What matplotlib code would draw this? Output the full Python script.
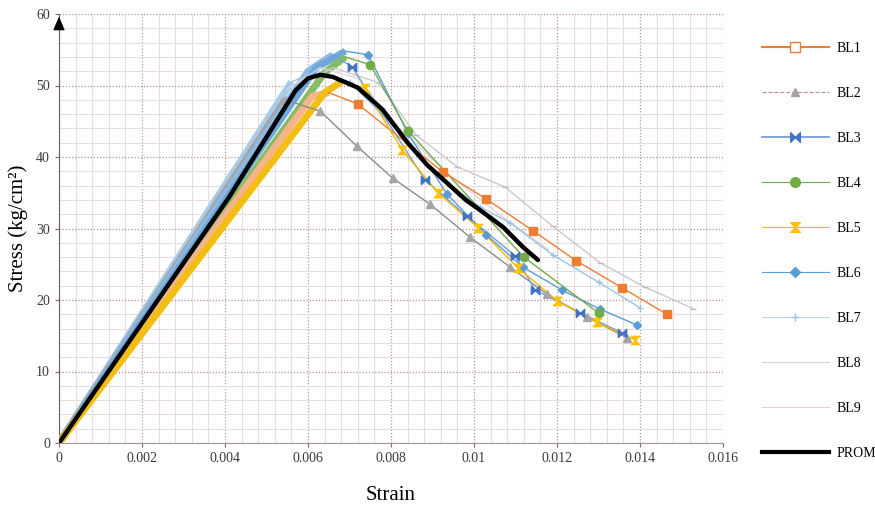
import matplotlib
matplotlib.use('Agg')
import matplotlib.pyplot as plt
from matplotlib.lines import Line2D
from matplotlib.path import Path
from matplotlib.ticker import MultipleLocator

plt.rcParams['font.family'] = ['Liberation Serif', 'DejaVu Serif']

# strain / stress values
bl1_x = [0, 0.0061, 0.0065, 0.0072, 0.00925, 0.0103, 0.01142, 0.01246, 0.01357, 0.01465]
bl1_y = [0, 48.5, 49.0, 47.4, 37.9, 34.1, 29.7, 25.5, 21.7, 18.0]
bl2_x = [0, 0.00545, 0.0063, 0.00718, 0.00805, 0.00894, 0.0099, 0.01087, 0.01176, 0.01272, 0.01369]
bl2_y = [0, 48.0, 46.4, 41.5, 37.0, 33.4, 28.8, 24.6, 20.8, 17.6, 14.7]
bl3_x = [0, 0.0060, 0.0066, 0.00706, 0.00882, 0.00983, 0.01099, 0.01147, 0.01256, 0.01357]
bl3_y = [0, 52.0, 54.3, 52.6, 36.8, 31.7, 26.2, 21.4, 18.2, 15.4]
bl4_x = [0, 0.0064, 0.0069, 0.0075, 0.0084, 0.0112, 0.0130]
bl4_y = [0, 51.8, 54.0, 52.9, 43.7, 26.0, 18.2]
bl5_x = [0, 0.0064, 0.0068, 0.00737, 0.00827, 0.00913, 0.0101, 0.01106, 0.0120, 0.01296, 0.01388]
bl5_y = [0, 49.0, 50.5, 49.6, 41.0, 35.0, 30.1, 24.5, 19.9, 16.9, 14.4]
bl6_x = [0, 0.0062, 0.0069, 0.00745, 0.0084, 0.00935, 0.0103, 0.01118, 0.01212, 0.01304, 0.01393]
bl6_y = [0, 52.5, 54.8, 54.3, 43.4, 34.8, 29.1, 24.6, 21.4, 18.7, 16.5]
bl7_x = [0, 0.0056, 0.0062, 0.0070, 0.0082, 0.0092, 0.01015, 0.01087, 0.0119, 0.0130, 0.0140]
bl7_y = [0, 50.5, 52.0, 50.5, 43.5, 37.0, 33.0, 30.8, 26.3, 22.5, 18.9]
bl8_x = [0, 0.0058, 0.0066, 0.0077, 0.0086, 0.0096, 0.01075, 0.0119, 0.01304, 0.01412, 0.01528]
bl8_y = [0, 50.0, 52.5, 50.4, 43.1, 38.6, 35.8, 30.3, 25.2, 21.8, 18.8]
bl9_x = [0, 0.0055, 0.0063, 0.0072, 0.0082, 0.0094, 0.0106, 0.0118]
bl9_y = [0, 49.5, 52.5, 51.0, 44.0, 37.5, 32.0, 27.0]
prom_x = [0, 0.0041, 0.0057, 0.0060, 0.0063, 0.0066, 0.0072, 0.0078, 0.0084, 0.00887,
          0.0098, 0.01014, 0.0107, 0.01118, 0.01154]
prom_y = [0, 34.4, 49.3, 51.0, 51.5, 51.2, 49.7, 46.6, 42.0, 38.9, 34.0, 32.6, 30.2, 27.4, 25.6]

bowtie = Path([(-1, -1), (-1, 1), (1, -1), (1, 1), (-1, -1)])
hourglass = Path([(-1, 1), (1, 1), (-1, -1), (1, -1), (-1, 1)])

# name, x, y, line colour, marker, marker colour, marker size, rising points, first marker
series = [
    ('BL9', bl9_x, bl9_y, '#E2D6D6', None, '#E2D6D6', 0, 2, 3),
    ('BL8', bl8_x, bl8_y, '#C9C9C9', '_', '#BDBDBD', 5, 2, 3),
    ('BL7', bl7_x, bl7_y, '#9DC3E6', '+', '#9DC3E6', 5, 2, 3),
    ('BL2', bl2_x, bl2_y, '#8C8C8C', '^', '#A5A5A5', 5.5, 2, 1),
    ('BL3', bl3_x, bl3_y, '#6FA0D8', bowtie, '#4472C4', 6, 3, 3),
    ('BL6', bl6_x, bl6_y, '#5B9BD5', 'D', '#5B9BD5', 4.5, 3, 3),
    ('BL4', bl4_x, bl4_y, '#70AD47', 'o', '#70AD47', 6, 3, 3),
    ('BL1', bl1_x, bl1_y, '#ED7D31', 's', '#ED7D31', 6, 3, 3),
    ('BL5', bl5_x, bl5_y, '#F2B800', hourglass, '#FFC000', 6, 3, 3),
]
band = {'BL9': '#DCE8F4', 'BL8': '#B4C8DC', 'BL7': '#A9CBEA', 'BL2': '#A5A5A5',
        'BL3': '#8DB9E2', 'BL6': '#6FA7DA', 'BL4': '#86BD62', 'BL1': '#F5B48C', 'BL5': '#F2BE14'}

fig = plt.figure(figsize=(8.75, 5.12), dpi=100)
ax = fig.add_axes([59 / 875, 1 - 443 / 512, (723 - 59) / 875, (443 - 14) / 512])

for name, x, y, col, mk, mcol, ms, k, m0 in series:
    ax.plot(x[:k], y[:k], color=band[name], lw=5, solid_capstyle='butt',
            solid_joinstyle='round', zorder=3)
    ax.plot(x[k - 1:], y[k - 1:], color=col, lw=1.0, zorder=4)
    if mk is not None:
        ax.plot(x[m0:], y[m0:], ls='none', marker=mk, ms=ms, color=mcol, mec=mcol, zorder=5)

ax.plot(prom_x, prom_y, color='black', lw=3.2, zorder=8, solid_capstyle='round')

ax.set_xlim(0, 0.016)
ax.set_ylim(0, 60)
ax.set_xticks([0, 0.002, 0.004, 0.006, 0.008, 0.01, 0.012, 0.014, 0.016])
ax.set_xticklabels(['0', '0.002', '0.004', '0.006', '0.008', '0.01', '0.012', '0.014', '0.016'])
ax.set_yticks(range(0, 61, 10))
ax.xaxis.set_minor_locator(MultipleLocator(0.0004))
ax.yaxis.set_minor_locator(MultipleLocator(2))
ax.grid(which='major', color='#B89494', ls=(0, (1, 1.5)), lw=0.9)
ax.grid(which='minor', color='#EBDCDC', ls='-', lw=0.8)
ax.set_axisbelow(True)
ax.tick_params(which='minor', length=0)
ax.tick_params(which='major', length=3, color='#7A6A6A', labelsize=10, labelcolor='#3A3A3A')
for s in ['top', 'right']:
    ax.spines[s].set_visible(False)
ax.spines['left'].set_color('#6E5E5E')
ax.spines['bottom'].set_color('#A89494')
ax.annotate('', xy=(0, 1.0), xytext=(0, 0.96), xycoords='axes fraction',
            arrowprops=dict(arrowstyle='-|>,head_length=0.8,head_width=0.35', color='black', lw=1))

ax.set_xlabel('Strain', fontsize=15, labelpad=15)
ax.set_ylabel('Stress (kg/cm²)', fontsize=15, labelpad=6)

handles = [
    Line2D([], [], color='#ED7D31', marker='s', mfc='white', mec='#ED7D31', ms=7),
    Line2D([], [], color='#B89090', ls='--', lw=0.8, marker='^', mfc='#A5A5A5', mec='#A5A5A5', ms=6),
    Line2D([], [], color='#6FA0D8', lw=1.3, marker=bowtie, mfc='#4472C4', mec='#4472C4', ms=7),
    Line2D([], [], color='#70AD47', lw=0.8, marker='o', mfc='#70AD47', mec='#70AD47', ms=7),
    Line2D([], [], color='#F2B800', lw=0.8, marker=hourglass, mfc='#FFC000', mec='#FFC000', ms=7),
    Line2D([], [], color='#5B9BD5', lw=0.8, marker='D', mfc='#5B9BD5', mec='#5B9BD5', ms=5),
    Line2D([], [], color='#BCD6EE', lw=0.8, marker='+', mec='#9DC3E6', ms=6),
    Line2D([], [], color='#E2CFCF', lw=0.8),
    Line2D([], [], color='#E2CFCF', lw=0.8),
    Line2D([], [], color='black', lw=3),
]
labels = ['BL1', 'BL2', 'BL3', 'BL4', 'BL5', 'BL6', 'BL7', 'BL8', 'BL9', 'PROM']
fig.legend(handles, labels, loc='upper left', bbox_to_anchor=(762 / 875, 1 - 42 / 512),
           frameon=False, fontsize=10, handlelength=4.8, handletextpad=0.6,
           labelspacing=2.3, borderpad=0, borderaxespad=0)

fig.savefig('out.png', dpi=100)
